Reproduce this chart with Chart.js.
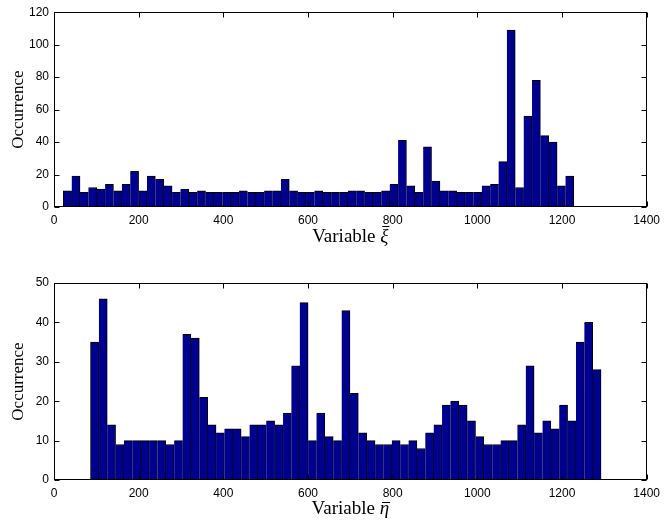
<!DOCTYPE html>
<html lang="en">
  <head>
    <meta charset="UTF-8" />
    <title>Occurrence histograms</title>
    <script src="https://cdn.jsdelivr.net/npm/chart.js@4.4.0/dist/chart.umd.min.js"></script>
    <style>
      body {
        margin: 0;
        background: #fff;
      }
      .wrap {
        position: relative;
        width: 666px;
        height: 521px;
      }
      canvas {
        position: absolute;
        left: 0;
      }
      #xiChart {
        top: 0;
      }
      #etaChart {
        top: 260px;
      }
    </style>
  </head>
  <body>
    <div class="wrap">
      <canvas id="xiChart" width="666" height="260"></canvas>
      <canvas id="etaChart" width="666" height="261"></canvas>
    </div>

    <script>
      // bin centres and counts, upper histogram
      const xiBins = [
        31.8, 51.6, 71.3, 91.1, 110.9, 130.6, 150.4, 170.2, 190.0, 209.7,
        229.5, 249.3, 269.1, 288.8, 308.6, 328.4, 348.1, 367.9, 387.7, 407.5,
        427.2, 447.0, 466.8, 486.6, 506.3, 526.1, 545.9, 565.6, 585.4, 605.2,
        625.0, 644.7, 664.5, 684.3, 704.1, 723.8, 743.6, 763.4, 783.1, 802.9,
        822.7, 842.5, 862.2, 882.0, 901.8, 921.6, 941.3, 961.1, 980.9, 1000.6,
        1020.4, 1040.2, 1060.0, 1079.7, 1099.5, 1119.3, 1139.1, 1158.8, 1178.6, 1198.4,
        1218.1
      ];
      const xiCounts = [
        10, 19, 9, 12, 11, 14, 10, 14, 22, 10,
        19, 17, 13, 9, 11, 9, 10, 9, 9, 9,
        9, 10, 9, 9, 10, 10, 17, 10, 9, 9,
        10, 9, 9, 9, 10, 10, 9, 9, 10, 14,
        41, 13, 9, 37, 16, 10, 10, 9, 9, 9,
        13, 14, 28, 109, 12, 56, 78, 44, 40, 13,
        19
      ];

      // bin centres and counts, lower histogram
      const etaBins = [
        96.1, 115.9, 135.6, 155.4, 175.2, 194.9, 214.7, 234.5, 254.3, 274.0,
        293.8, 313.6, 333.4, 353.1, 372.9, 392.7, 412.4, 432.2, 452.0, 471.8,
        491.5, 511.3, 531.1, 550.9, 570.6, 590.4, 610.2, 629.9, 649.7, 669.5,
        689.3, 709.0, 728.8, 748.6, 768.4, 788.1, 807.9, 827.7, 847.4, 867.2,
        887.0, 906.8, 926.5, 946.3, 966.1, 985.9, 1005.6, 1025.4, 1045.2, 1064.9,
        1084.7, 1104.5, 1124.3, 1144.0, 1163.8, 1183.6, 1203.4, 1223.1, 1242.9, 1262.7,
        1282.4
      ];
      const etaCounts = [
        35, 46, 14, 9, 10, 10, 10, 10, 10, 9,
        10, 37, 36, 21, 14, 12, 13, 13, 11, 14,
        14, 15, 14, 17, 29, 45, 10, 17, 11, 10,
        43, 22, 12, 10, 9, 9, 10, 9, 10, 8,
        12, 14, 19, 20, 19, 15, 11, 9, 9, 10,
        10, 14, 29, 12, 15, 13, 19, 15, 35, 40,
        28
      ];

      const xTicks = [0, 200, 400, 600, 800, 1000, 1200, 1400];
      const xiTicks = [0, 20, 40, 60, 80, 100, 120];
      const etaTicks = [0, 10, 20, 30, 40, 50];

      const BAR = '#00008f';
      const SERIF = 'Liberation Serif, Times New Roman, serif';
      const tickFont = { family: 'Liberation Sans, Arial, sans-serif', size: 12 };
      const titleFont = { family: SERIF, size: 17 };

      // matlab style frame: closed box, ticks pointing inwards on all four sides
      const boxTicks = {
        id: 'boxTicks',
        afterDatasetsDraw(chart) {
          const { ctx, chartArea: a, scales } = chart;
          const len = 5;
          const l = Math.round(a.left) + 0.5;
          const r = Math.round(a.right) - 0.5;
          const t = Math.round(a.top) + 0.5;
          const b = Math.round(a.bottom) - 0.5;
          ctx.save();
          ctx.strokeStyle = '#000';
          ctx.lineWidth = 1;
          ctx.beginPath();
          scales.x.ticks.forEach((tk) => {
            const px = Math.round(scales.x.getPixelForValue(tk.value)) + 0.5;
            ctx.moveTo(px, t);
            ctx.lineTo(px, t + len);
            ctx.moveTo(px, b);
            ctx.lineTo(px, b - len);
          });
          scales.y.ticks.forEach((tk) => {
            const py = Math.round(scales.y.getPixelForValue(tk.value)) + 0.5;
            ctx.moveTo(l, py);
            ctx.lineTo(l + len, py);
            ctx.moveTo(r, py);
            ctx.lineTo(r - len, py);
          });
          ctx.stroke();
          ctx.strokeRect(l, t, r - l, b - t);
          ctx.restore();
        },
      };

      // x axis label: upright "Variable" followed by an italic barred symbol
      const barTitle = {
        id: 'barTitle',
        afterDraw(chart, args, o) {
          const { ctx, chartArea: a } = chart;
          const size = 19;
          const word = 'Variable ';
          ctx.save();
          ctx.fillStyle = '#000';
          ctx.textBaseline = 'alphabetic';
          ctx.font = size + 'px ' + SERIF;
          const w1 = ctx.measureText(word).width;
          ctx.font = 'italic ' + size + 'px ' + SERIF;
          const w2 = ctx.measureText(o.symbol).width;
          let x = (a.left + a.right) / 2 - (w1 + w2) / 2;
          ctx.font = size + 'px ' + SERIF;
          ctx.fillText(word, x, o.baseline);
          x += w1;
          ctx.font = 'italic ' + size + 'px ' + SERIF;
          ctx.fillText(o.symbol, x, o.baseline);
          // the bar over the symbol
          const my = Math.round(o.baseline - o.rise * size) + 0.5;
          ctx.strokeStyle = '#000';
          ctx.lineWidth = 1;
          ctx.beginPath();
          ctx.moveTo(x + 0.25 * w2, my);
          ctx.lineTo(x + w2 + 1, my);
          ctx.stroke();
          ctx.restore();
        },
      };

      function makeHist(id, bins, counts, yTicks, opts) {
        const ctx = document.getElementById(id).getContext('2d');
        return new Chart(ctx, {
          type: 'bar',
          data: {
            datasets: [
              {
                data: bins.map((b, i) => ({ x: b, y: counts[i] })),
                backgroundColor: BAR,
                borderColor: '#000',
                borderWidth: (c) => ({
                  top: 1,
                  right: 1,
                  bottom: 0,
                  left: c.dataIndex === 0 ? 1 : 0,
                }),
                barPercentage: 1,
                categoryPercentage: 1,
              },
            ],
          },
          options: {
            responsive: false,
            animation: false,
            events: [],
            layout: { padding: { top: opts.top, right: 16, left: 0, bottom: 0 } },
            plugins: {
              legend: { display: false },
              tooltip: { enabled: false },
              barTitle: opts.title,
            },
            scales: {
              x: {
                type: 'linear',
                min: 0,
                max: 1400,
                offset: false,
                grid: { display: false, drawTicks: false, offset: false },
                border: { display: false },
                afterBuildTicks: (s) => {
                  s.ticks = xTicks.map((v) => ({ value: v }));
                },
                ticks: {
                  font: tickFont,
                  color: '#000',
                  padding: 6,
                  maxRotation: 0,
                  callback: (v) => String(v),
                },
                afterFit: (s) => {
                  s.height = opts.xHeight;
                },
              },
              y: {
                min: 0,
                max: yTicks[yTicks.length - 1],
                grid: { display: false, drawTicks: false },
                border: { display: false },
                afterBuildTicks: (s) => {
                  s.ticks = yTicks.map((v) => ({ value: v }));
                },
                ticks: {
                  font: tickFont,
                  color: '#000',
                  padding: 5,
                  callback: (v) => String(v),
                },
                title: {
                  display: true,
                  text: 'Occurrence',
                  font: titleFont,
                  color: '#000',
                  padding: { top: 8, bottom: 0 },
                },
                afterFit: (s) => {
                  s.width = 54;
                },
              },
            },
          },
          plugins: [boxTicks, barTitle],
        });
      }

      makeHist('xiChart', xiBins, xiCounts, xiTicks, {
        top: 11,
        xHeight: 53,
        title: { symbol: '\u03BE', baseline: 242, rise: 0.86 },
      });
      makeHist('etaChart', etaBins, etaCounts, etaTicks, {
        top: 23,
        xHeight: 41,
        title: { symbol: '\u03B7', baseline: 254, rise: 0.62 },
      });
    </script>
  </body>
</html>
